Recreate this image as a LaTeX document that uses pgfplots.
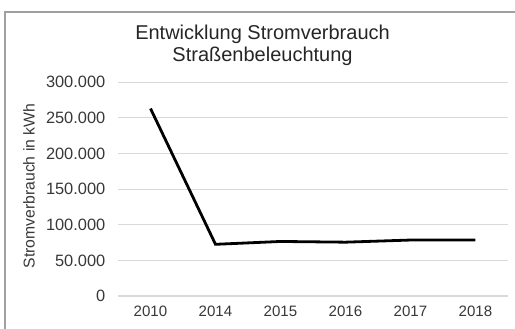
\documentclass[border=0pt]{standalone}
\usepackage{fontspec}
\setmainfont{Liberation Sans}
\usepackage{pgfplots}
\pgfplotsset{compat=1.18}
\definecolor{gridgray}{HTML}{D9D9D9}
\definecolor{framegray}{HTML}{A0A0A0}
\definecolor{labelgray}{HTML}{383838}
\begin{document}
\begin{tikzpicture}
% canvas: 515 x 329 px at 0.75pt per px
\useasboundingbox (0pt,0pt) rectangle (386.25pt,246.75pt);
\begin{scope}
\clip (0pt,0pt) rectangle (386.25pt,246.75pt);
% outer chart frame, running past the right and bottom edges
\draw[framegray, line width=1.5pt] (3.75pt,-15pt) -- (3.75pt,237.75pt) -- (400pt,237.75pt);
\end{scope}
\node[font=\fontsize{15}{16.5}\selectfont, text=black!85, align=center, anchor=center]
  at (196.9pt,213pt) {Entwicklung Stromverbrauch\\Straßenbeleuchtung};
\node[font=\fontsize{11.8}{13}\selectfont, text=labelgray, rotate=90, anchor=center]
  at (21.75pt,107.25pt) {Stromverbrauch in kWh};
\begin{axis}[
  at={(88.5pt,24.75pt)}, anchor=south west,
  scale only axis,
  width=292.5pt, height=160.4pt,
  xmin=-0.5, xmax=5.5, ymin=0, ymax=300000,
  xtick={0,...,5},
  xticklabels={2010,2014,2015,2016,2017,2018},
  ytick={0,50000,100000,150000,200000,250000,300000},
  yticklabels={0,50.000,100.000,150.000,200.000,250.000,300.000},
  scaled y ticks=false,
  axis line style={draw=none},
  tick style={draw=none},
  ymajorgrids,
  grid style={gridgray, line width=0.8pt},
  xticklabel style={font=\fontsize{11.3}{13}\selectfont, text=labelgray, yshift=-4pt},
  yticklabel style={font=\fontsize{12.3}{14}\selectfont, text=labelgray, xshift=-6pt},
  clip=false,
]
\addplot[black, line width=2.1pt, mark=none] coordinates {
  (0,263000) (1,72500) (2,76500) (3,75500) (4,78500) (5,78500)
};
\end{axis}
\end{tikzpicture}
\end{document}
